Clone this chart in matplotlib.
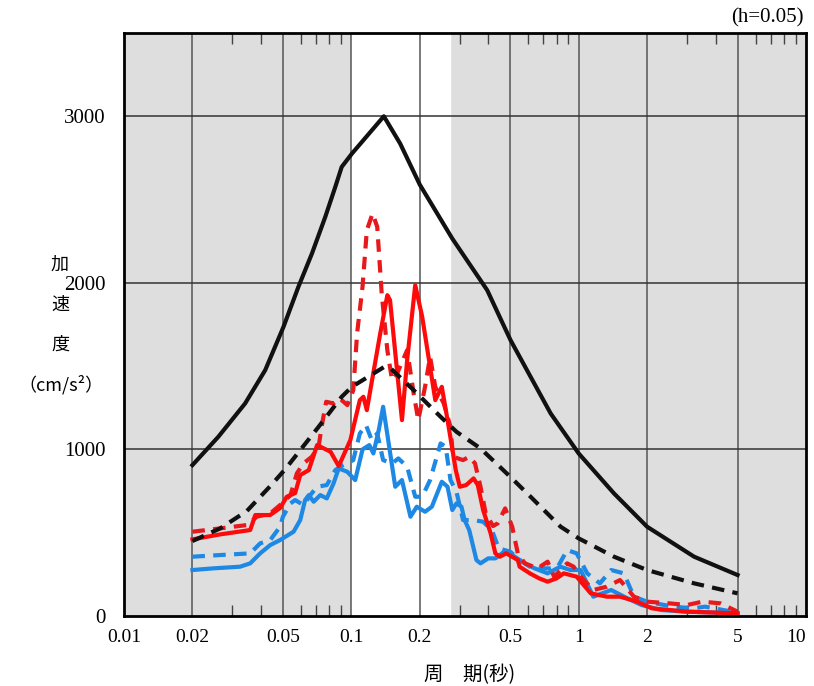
import matplotlib
matplotlib.use("Agg")
from matplotlib import pyplot as plt
from matplotlib.ticker import FixedLocator, NullFormatter

# design spectra (black)
t_lv2 = [0.02, 0.026, 0.0341, 0.0418, 0.0503, 0.0585, 0.0671, 0.0768, 0.085,
         0.0907, 0.1006, 0.139, 0.164, 0.2, 0.278, 0.396, 0.5016, 0.6145,
         0.753, 1.0, 1.43, 2.0, 3.22, 5.0]
a_lv2 = [906, 1076, 1276, 1476, 1736, 1976, 2176, 2396, 2576,
         2696, 2776, 3000, 2836, 2590, 2266, 1956, 1656, 1436,
         1216, 976, 736, 536, 356, 246]

t_lv1 = [0.02, 0.0265, 0.0347, 0.0447, 0.0511, 0.0718, 0.0907, 0.1006, 0.139,
         0.148, 0.188, 0.247, 0.29, 0.37, 0.5, 0.6145, 0.833, 1.0, 1.43, 2.0,
         3.22, 5.0]
a_lv1 = [450, 526, 630, 790, 880, 1136, 1316, 1376, 1494,
         1490, 1356, 1196, 1106, 1006, 836, 716, 536, 466, 356, 276,
         196, 136]

# response spectra (red)
t_red1 = [0.02, 0.0265, 0.0359, 0.0378, 0.0439, 0.0486, 0.052, 0.0566, 0.0596,
          0.065, 0.0707, 0.081, 0.088, 0.099, 0.109, 0.113, 0.117, 0.134, 0.144,
          0.148, 0.167, 0.176, 0.191, 0.205, 0.222, 0.234, 0.25, 0.265, 0.288,
          0.30, 0.32, 0.345, 0.36, 0.38, 0.41, 0.43, 0.45, 0.48, 0.54, 0.55,
          0.61, 0.67, 0.73, 0.80, 0.86, 0.98, 1.13, 1.33, 1.52, 1.81, 2.1,
          3.0, 5.0]
a_red1 = [460, 490, 516, 606, 606, 648, 716, 738, 846,
          876, 1026, 986, 900, 1056, 1296, 1316, 1236, 1696, 1926,
          1896, 1176, 1536, 1986, 1796, 1496, 1296, 1376, 1176, 876,
          776, 786, 826, 786, 636, 496, 376, 356, 376, 336, 296,
          256, 226, 206, 226, 256, 236, 136, 116, 116, 86, 46,
          26, 16]

t_red2 = [0.02, 0.0265, 0.0347, 0.0384, 0.044, 0.0486, 0.054, 0.0576, 0.0616,
          0.067, 0.0718, 0.074, 0.0775, 0.0835, 0.089, 0.096, 0.102, 0.106,
          0.112, 0.117, 0.124, 0.130, 0.136, 0.144, 0.151, 0.159, 0.176, 0.188,
          0.197, 0.211, 0.222, 0.234, 0.255, 0.273, 0.28, 0.31, 0.33, 0.35,
          0.37, 0.39, 0.42, 0.44, 0.475, 0.51, 0.54, 0.58, 0.66, 0.73, 0.78,
          0.89, 0.95, 1.02, 1.16, 1.33, 1.52, 1.75, 2.0, 2.5, 3.0, 3.5, 4.2, 5.0]
a_red2 = [506, 526, 546, 596, 616, 666, 726, 856, 916,
          956, 1016, 1136, 1286, 1276, 1306, 1266, 1356, 1696,
          1976, 2316, 2416, 2336, 1936, 1596, 1416, 1456, 1596, 1336,
          1176, 1376, 1556, 1376, 1276, 1136, 956, 936, 956, 916,
          776, 616, 540, 556, 646, 536, 376, 316, 286, 326, 236,
          316, 296, 236, 156, 176, 216, 116, 86, 76, 66, 86, 76, 26]

# response spectra (blue)
t_blue1 = [0.02, 0.0247, 0.0324, 0.0359, 0.0397, 0.044, 0.0486, 0.0557, 0.0596,
           0.0626, 0.065, 0.0683, 0.073, 0.078, 0.0835, 0.088, 0.096, 0.104,
           0.112, 0.12, 0.125, 0.132, 0.138, 0.146, 0.156, 0.167, 0.182, 0.194,
           0.211, 0.226, 0.25, 0.265, 0.278, 0.29, 0.305, 0.315, 0.33, 0.355,
           0.37, 0.40, 0.43, 0.47, 0.51, 0.58, 0.64, 0.73, 0.83, 0.92, 1.02,
           1.16, 1.39, 1.64, 1.89, 2.3, 3.0, 5.0]
a_blue1 = [276, 286, 296, 316, 376, 426, 456, 506, 576,
           696, 726, 686, 726, 706, 796, 886, 866, 816,
           1000, 1026, 976, 1116, 1256, 1036, 776, 816, 596, 656,
           626, 656, 806, 776, 636, 676, 656, 576, 516, 336,
           316, 346, 346, 386, 366, 316, 286, 256, 296, 276, 276,
           116, 156, 106, 66, 36, 26, 16]

t_blue2 = [0.02, 0.0265, 0.0359, 0.0397, 0.044, 0.0486, 0.05, 0.054, 0.0566,
           0.0616, 0.066, 0.0707, 0.078, 0.085, 0.092, 0.102, 0.109, 0.116,
           0.123, 0.130, 0.138, 0.151, 0.161, 0.176, 0.191, 0.205, 0.222, 0.247,
           0.26, 0.273, 0.29, 0.31, 0.345, 0.38, 0.415, 0.445, 0.50, 0.55,
           0.61, 0.68, 0.75, 0.81, 0.89, 0.98, 1.09, 1.24, 1.39, 1.58, 1.75,
           2.0, 2.6, 3.2, 3.6, 5.0]
a_blue2 = [356, 366, 376, 436, 456, 536, 596, 676, 696,
           666, 726, 776, 786, 876, 906, 936, 1096, 1146,
           1056, 1096, 936, 916, 946, 896, 716, 716, 816, 1036,
           1016, 816, 746, 576, 576, 566, 516, 406, 386, 336,
           296, 286, 286, 296, 396, 376, 256, 196, 276, 256, 116,
           86, 56, 46, 56, 20]

major_ticks = [0.01, 0.02, 0.05, 0.1, 0.2, 0.5, 1, 2, 5, 10]
major_labels = ["0.01", "0.02", "0.05", "0.1", "0.2", "0.5", "1", "2", "5", "10"]
minor_ticks = [m * d for d in [0.01, 0.1, 1] for m in [3, 4, 6, 7, 8, 9]]
y_ticks = [0, 1000, 2000, 3000]

serif = ["Liberation Serif", "DejaVu Serif"]
jp = ["Noto Sans CJK JP", "DejaVu Sans"]

fig = plt.figure(figsize=(8.14, 6.86), dpi=100)
ax = fig.add_axes([124 / 814, 70 / 686, 682 / 814, 583 / 686])
ax.set_facecolor("#dedede")
ax.axvspan(0.1, 0.273, color="white", zorder=0)

ax.set_xscale("log")
ax.set_xlim(0.01, 10)
ax.set_ylim(0, 3500)

lw = 3.0
ax.plot(t_blue2, a_blue2, color="#1e88e5", lw=lw, dashes=(3, 2), zorder=3)
ax.plot(t_blue1, a_blue1, color="#1e88e5", lw=lw, zorder=3)
ax.plot(t_red2, a_red2, color="#e8191c", lw=lw, dashes=(3, 2), zorder=4)
ax.plot(t_red1, a_red1, color="#ff0a0a", lw=lw, zorder=4)
ax.plot(t_lv1, a_lv1, color="#111111", lw=lw, dashes=(3, 2), zorder=5)
ax.plot(t_lv2, a_lv2, color="#111111", lw=lw, zorder=5)

for t in major_ticks[1:-1]:
    ax.axvline(t, color="#555555", lw=1.1, zorder=1)
for v in y_ticks[1:]:
    ax.axhline(v, color="#333333", lw=1.1, zorder=1)

ax.xaxis.set_major_locator(FixedLocator(major_ticks))
ax.set_xticklabels(major_labels, fontsize=14, family=serif)
ax.get_xticklabels()[-1].set_horizontalalignment("right")
ax.xaxis.set_minor_locator(FixedLocator(minor_ticks))
ax.xaxis.set_minor_formatter(NullFormatter())
ax.tick_params(axis="x", which="major", length=0, pad=9)
ax.tick_params(axis="x", which="minor", direction="in", length=8, width=1,
               color="#444444", top=True, bottom=True)
ax.set_yticks(y_ticks)
ax.set_yticklabels([str(v) for v in y_ticks], fontsize=15, family=serif)
ax.tick_params(axis="y", length=0, pad=13)

for s in ax.spines.values():
    s.set_linewidth(2)
    s.set_color("black")
    s.set_zorder(6)

fig.text(60 / 814, 1 - 265 / 686, "加", fontsize=13, family=jp, ha="center", va="center")
fig.text(60 / 814, 1 - 305 / 686, "速", fontsize=13, family=jp, ha="center", va="center")
fig.text(60 / 814, 1 - 345 / 686, "度", fontsize=13, family=jp, ha="center", va="center")
fig.text(61 / 814, 1 - 385 / 686, "（cm/s²）", fontsize=13, family=jp, ha="center", va="center")
fig.text(470 / 814, 1 - 675 / 686, "周　期(秒)", fontsize=14, family=jp, ha="center", va="center")
fig.text(804 / 814, 1 - 18 / 686, "(h=0.05)", fontsize=15, family=serif, ha="right", va="center")

fig.savefig("out.png", dpi=100)
